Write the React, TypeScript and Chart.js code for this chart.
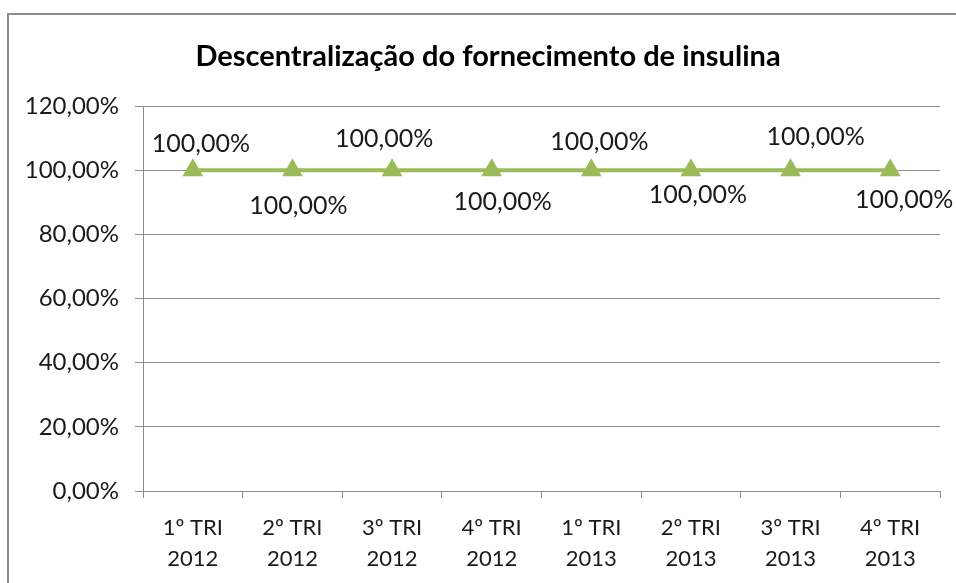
import React, { useEffect, useRef } from "react";
import { Chart, registerables } from "chart.js";

Chart.register(...registerables);

const categories: string[][] = [
  ["1º TRI", "2012"],
  ["2º TRI", "2012"],
  ["3º TRI", "2012"],
  ["4º TRI", "2012"],
  ["1º TRI", "2013"],
  ["2º TRI", "2013"],
  ["3º TRI", "2013"],
  ["4º TRI", "2013"],
];
const values: number[] = [100, 100, 100, 100, 100, 100, 100, 100];
const yTicks: number[] = [0, 20, 40, 60, 80, 100, 120];
const title = "Descentralização do fornecimento de insulina";

// label placement (px offsets from the point) – styling only
const labelDx = [8, 6, -8, 11, 8, 7, 25, 14];
const labelDy = [-26, 36, -31, 32, -28, 25, -33, 30];

const FONT = "Lato, 'Noto Sans', sans-serif";
const fmt = (v: number) => v.toFixed(2).replace(".", ",") + "%";

const framePlugin = {
  id: "frame",
  beforeDraw(chart: any) {
    const ctx = chart.ctx;
    ctx.save();
    ctx.fillStyle = "#ffffff";
    ctx.fillRect(0, 0, chart.width, chart.height);
    ctx.strokeStyle = "#8c8c8c";
    ctx.lineWidth = 2;
    ctx.strokeRect(8, 14, chart.width + 20, chart.height + 20);
    ctx.fillStyle = "#000";
    ctx.font = `bold 29px ${FONT}`;
    ctx.textAlign = "center";
    ctx.textBaseline = "middle";
    ctx.fillText(title, 488, 57);
    ctx.restore();
  },
};

const labelPlugin = {
  id: "dlabels",
  afterDatasetsDraw(chart: any) {
    const ctx = chart.ctx;
    const meta = chart.getDatasetMeta(0);
    ctx.save();
    ctx.fillStyle = "#1a1a1a";
    ctx.font = `25px ${FONT}`;
    ctx.textAlign = "center";
    ctx.textBaseline = "middle";
    meta.data.forEach((pt: any, i: number) => {
      ctx.fillText(fmt(values[i]), pt.x + labelDx[i], pt.y + labelDy[i]);
    });
    ctx.restore();
  },
};

export default function App() {
  const ref = useRef<HTMLCanvasElement | null>(null);
  useEffect(() => {
    document.body.style.margin = "0";
    const chart = new Chart(ref.current as HTMLCanvasElement, {
      type: "line",
      data: {
        labels: categories,
        datasets: [
          {
            data: values,
            borderColor: "#9bbb59",
            backgroundColor: "#9bbb59",
            borderWidth: 4,
            pointStyle: "triangle",
            pointRadius: 12,
            pointBorderWidth: 0,
            pointBackgroundColor: "#9bbb59",
          },
        ],
      },
      options: {
        animation: false,
        responsive: false,
        layout: { padding: { top: 106, right: 16, left: 0, bottom: 0 } },
        plugins: { legend: { display: false }, title: { display: false }, tooltip: { enabled: false } },
        scales: {
          x: {
            offset: true,
            afterFit: (s: any) => {
              s.height = 92;
            },
            grid: {
              offset: true,
              drawOnChartArea: false,
              drawTicks: true,
              tickLength: 7,
              color: "#8c8c8c",
            },
            border: { color: "#8c8c8c", width: 1 },
            ticks: {
              color: "#1a1a1a",
              font: { family: FONT, size: 22, lineHeight: 1.42 },
              padding: 14,
              maxRotation: 0,
              autoSkip: false,
            },
          },
          y: {
            min: 0,
            max: 120,
            afterFit: (s: any) => {
              s.width = 143;
            },
            afterBuildTicks: (s: any) => {
              s.ticks = yTicks.map((v) => ({ value: v }));
            },
            grid: { color: "#8c8c8c", tickLength: 8 },
            border: { color: "#8c8c8c", width: 1 },
            ticks: {
              color: "#1a1a1a",
              font: { family: FONT, size: 24 },
              padding: 16,
              callback: (v: any) => fmt(Number(v)),
            },
          },
        },
      },
      plugins: [framePlugin, labelPlugin],
    });
    return () => chart.destroy();
  }, []);
  return <canvas ref={ref} width={956} height={583} style={{ display: "block" }} />;
}
